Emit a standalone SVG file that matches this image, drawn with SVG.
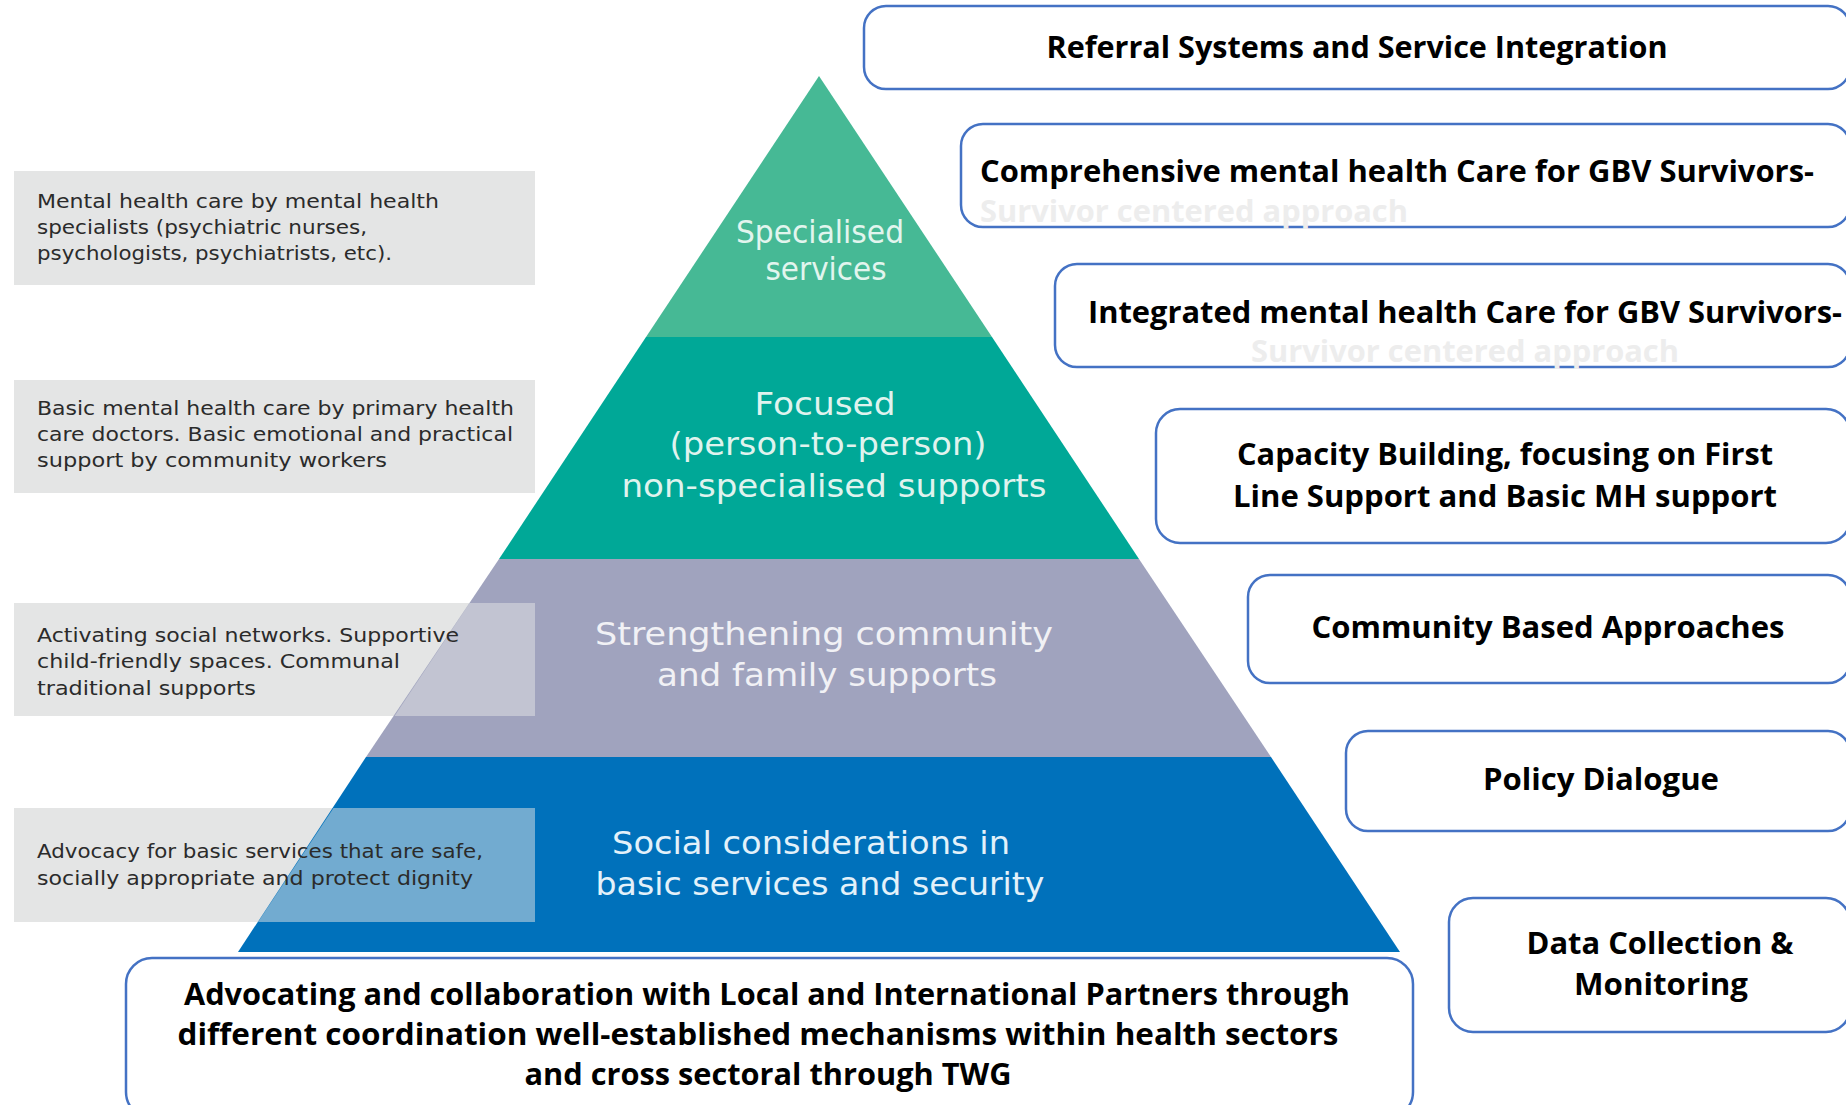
<svg xmlns="http://www.w3.org/2000/svg" width="1846" height="1105" viewBox="0 0 1846 1105">
  <defs>
    <style>
      .note { fill: #e4e5e5; }
      .note-tint { fill: #e4e5e5; opacity: 0.5; }
      .note-text { font-family: "DejaVu Sans", "Noto Sans", sans-serif; font-size: 20px; fill: #2b2b2b; }
      .tier-text { font-family: "DejaVu Sans", "Noto Sans", sans-serif; font-size: 32px; text-anchor: middle; }
      .box { fill: #ffffff; stroke: #4472c4; stroke-width: 2.5; }
      .box-text { font-family: "Open Sans", "Noto Sans", "Liberation Sans", sans-serif; font-weight: 700; font-size: 30px; fill: #000000; }
      .mid { text-anchor: middle; }
      .faint { font-family: "Open Sans", "Noto Sans", "Liberation Sans", sans-serif; font-weight: 700; font-size: 30px; fill: #ededed; }
    </style>
    <clipPath id="pyramid-clip">
      <polygon points="819,76 1400,952 238,952"/>
    </clipPath>
  </defs>

  <rect width="1846" height="1105" fill="#ffffff"/>

  <!-- Left description panels (opaque part, under the pyramid) -->
  <g id="notes-base">
    <rect class="note" x="14" y="171" width="521" height="114"/>
    <rect class="note" x="14" y="380" width="521" height="113"/>
    <rect class="note" x="14" y="603" width="521" height="113"/>
    <rect class="note" x="14" y="808" width="521" height="114"/>
  </g>

  <!-- Pyramid tiers -->
  <g id="tier-specialised">
    <polygon points="819,76 992,337 646,337" fill="#46b995"/>
    <text class="tier-text" fill="#e2f5ee" x="820" y="243" textLength="168" lengthAdjust="spacingAndGlyphs">Specialised</text>
    <text class="tier-text" fill="#e2f5ee" x="826" y="280" textLength="121" lengthAdjust="spacingAndGlyphs">services</text>
  </g>
  <g id="tier-focused">
    <polygon points="646,337 992,337 1139,559 499,559" fill="#00a897"/>
    <text class="tier-text" fill="#dff3ee" x="825" y="415" textLength="141" lengthAdjust="spacingAndGlyphs">Focused</text>
    <text class="tier-text" fill="#dff3ee" x="828" y="455" textLength="317" lengthAdjust="spacingAndGlyphs">(person-to-person)</text>
    <text class="tier-text" fill="#dff3ee" x="834" y="497" textLength="425" lengthAdjust="spacingAndGlyphs">non-specialised supports</text>
  </g>
  <g id="tier-community">
    <polygon points="499,559 1139,559 1271,757 366,757" fill="#a0a3be"/>
    <text class="tier-text" fill="#f1f1f5" x="824" y="645" textLength="458" lengthAdjust="spacingAndGlyphs">Strengthening community</text>
    <text class="tier-text" fill="#f1f1f5" x="827" y="686" textLength="340" lengthAdjust="spacingAndGlyphs">and family supports</text>
  </g>
  <g id="tier-basic">
    <polygon points="366,757 1271,757 1400,952 238,952" fill="#0071bb"/>
    <text class="tier-text" fill="#e3f1fa" x="811" y="854" textLength="398" lengthAdjust="spacingAndGlyphs">Social considerations in</text>
    <text class="tier-text" fill="#e3f1fa" x="820" y="895" textLength="449" lengthAdjust="spacingAndGlyphs">basic services and security</text>
  </g>

  <!-- Left description panels (translucent part over the pyramid) and their text -->
  <g id="note-specialised">
    <text class="note-text" x="37" y="208" textLength="402" lengthAdjust="spacingAndGlyphs">Mental health care by mental health</text>
    <text class="note-text" x="37" y="234" textLength="330" lengthAdjust="spacingAndGlyphs">specialists (psychiatric nurses,</text>
    <text class="note-text" x="37" y="260" textLength="355" lengthAdjust="spacingAndGlyphs">psychologists, psychiatrists, etc).</text>
  </g>
  <g id="note-focused">
    <text class="note-text" x="37" y="415" textLength="477" lengthAdjust="spacingAndGlyphs">Basic mental health care by primary health</text>
    <text class="note-text" x="37" y="441" textLength="476" lengthAdjust="spacingAndGlyphs">care doctors. Basic emotional and practical</text>
    <text class="note-text" x="37" y="467" textLength="350" lengthAdjust="spacingAndGlyphs">support by community workers</text>
  </g>
  <g id="note-community">
    <rect class="note-tint" x="14" y="603" width="521" height="113" clip-path="url(#pyramid-clip)"/>
    <text class="note-text" x="37" y="642" textLength="422" lengthAdjust="spacingAndGlyphs">Activating social networks. Supportive</text>
    <text class="note-text" x="37" y="668" textLength="363" lengthAdjust="spacingAndGlyphs">child-friendly spaces. Communal</text>
    <text class="note-text" x="37" y="695" textLength="219" lengthAdjust="spacingAndGlyphs">traditional supports</text>
  </g>
  <g id="note-basic">
    <rect class="note-tint" x="14" y="808" width="521" height="114" clip-path="url(#pyramid-clip)"/>
    <text class="note-text" x="37" y="858" textLength="446" lengthAdjust="spacingAndGlyphs">Advocacy for basic services that are safe,</text>
    <text class="note-text" x="37" y="885" textLength="436" lengthAdjust="spacingAndGlyphs">socially appropriate and protect dignity</text>
  </g>

  <!-- Strategy boxes on the right -->
  <g id="box-referral">
    <rect class="box" x="864" y="6" width="986" height="83" rx="22"/>
    <text class="box-text mid" x="1357" y="58" textLength="621" lengthAdjust="spacingAndGlyphs">Referral Systems and Service Integration</text>
  </g>
  <g id="box-comprehensive">
    <rect class="box" x="961" y="124" width="889" height="103" rx="22"/>
    <text class="box-text" x="980" y="182" textLength="834" lengthAdjust="spacingAndGlyphs">Comprehensive mental health Care for GBV Survivors-</text>
    <text class="faint" x="980" y="222" textLength="428" lengthAdjust="spacingAndGlyphs">Survivor centered approach</text>
  </g>
  <g id="box-integrated">
    <rect class="box" x="1055" y="264" width="795" height="103" rx="22"/>
    <text class="box-text" x="1088" y="323" textLength="754" lengthAdjust="spacingAndGlyphs">Integrated mental health Care for GBV Survivors-</text>
    <text class="faint" x="1251" y="362" textLength="428" lengthAdjust="spacingAndGlyphs">Survivor centered approach</text>
  </g>
  <g id="box-capacity">
    <rect class="box" x="1156" y="409" width="694" height="134" rx="24"/>
    <text class="box-text mid" x="1505" y="465" textLength="536" lengthAdjust="spacingAndGlyphs">Capacity Building, focusing on First</text>
    <text class="box-text mid" x="1505" y="507" textLength="544" lengthAdjust="spacingAndGlyphs">Line Support and Basic MH support</text>
  </g>
  <g id="box-community">
    <rect class="box" x="1248" y="575" width="602" height="108" rx="22"/>
    <text class="box-text mid" x="1548" y="638" textLength="473" lengthAdjust="spacingAndGlyphs">Community Based Approaches</text>
  </g>
  <g id="box-policy">
    <rect class="box" x="1346" y="731" width="504" height="100" rx="22"/>
    <text class="box-text mid" x="1601" y="790" textLength="236" lengthAdjust="spacingAndGlyphs">Policy Dialogue</text>
  </g>
  <g id="box-data">
    <rect class="box" x="1449" y="898" width="401" height="134" rx="24"/>
    <text class="box-text mid" x="1660" y="954" textLength="267" lengthAdjust="spacingAndGlyphs">Data Collection &amp;</text>
    <text class="box-text mid" x="1661" y="995" textLength="174" lengthAdjust="spacingAndGlyphs">Monitoring</text>
  </g>

  <!-- Coordination box under the pyramid -->
  <g id="box-coordination">
    <rect class="box" x="126" y="958" width="1287" height="160" rx="26"/>
    <text class="box-text mid" x="767" y="1005" textLength="1166" lengthAdjust="spacingAndGlyphs">Advocating and collaboration with Local and International Partners through</text>
    <text class="box-text mid" x="758" y="1045" textLength="1161" lengthAdjust="spacingAndGlyphs">different coordination well-established mechanisms within health sectors</text>
    <text class="box-text mid" x="768" y="1085" textLength="487" lengthAdjust="spacingAndGlyphs">and cross sectoral through TWG</text>
  </g>

  <!-- No connectors in this figure -->
  <g id="connectors"/>
</svg>
